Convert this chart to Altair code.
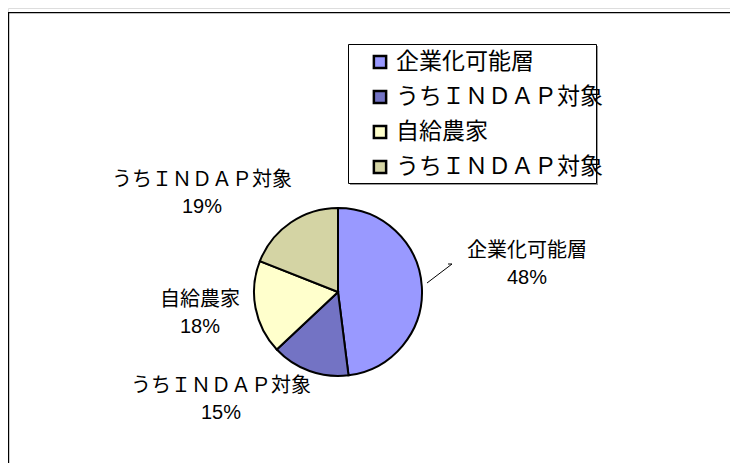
import altair as alt
import pandas as pd

# ---- data ----
slice_ids = ["s1", "s2", "s3", "s4"]
slice_labels = ["企業化可能層", "うちＩＮＤＡＰ対象", "自給農家", "うちＩＮＤＡＰ対象"]
slice_values = [48, 15, 18, 19]
slice_colors = ["#9999FF", "#7373C4", "#FFFFCC", "#D4D4A4"]

FONT = "Noto Sans CJK JP"
NUM_FONT = "Liberation Sans"

df = pd.DataFrame({
    "id": slice_ids,
    "label": slice_labels,
    "value": slice_values,
    "order": list(range(len(slice_ids))),
})

base = alt.Chart(df)

color_scale = alt.Scale(domain=slice_ids, range=slice_colors)

CX, CY, R = 330, 284, 84

# outer frame (decoration)
frame = base.mark_rect(fill="white", stroke="black", strokeWidth=1.2).encode(
    x=alt.value(0.6), y=alt.value(4.6), x2=alt.value(2000), y2=alt.value(2000)
).transform_filter("datum.order == 0")

pie = base.mark_arc(outerRadius=R, stroke="black", strokeWidth=2).encode(
    theta=alt.Theta("value:Q", stack=True),
    order=alt.Order("order:Q"),
    color=alt.Color("id:N", scale=color_scale, legend=None),
    x=alt.value(CX),
    y=alt.value(CY),
)

# data labels (Excel-style placement): (x, first line y, second line y)
label_pos = {"s1": (519, 243, 270), "s2": (213, 378, 405), "s3": (192, 292, 319), "s4": (194, 172, 199)}

def label_layers(sid):
    px, py1, py2 = label_pos[sid]
    src = base.transform_joinaggregate(total="sum(value)").transform_calculate(
        pct="format(datum.value / datum.total, '.0%')"
    ).transform_filter(f"datum.id == '{sid}'")
    t1 = src.mark_text(
        font=FONT, fontSize=20, color="black", align="center", baseline="middle"
    ).encode(text="label:N", x=alt.value(px), y=alt.value(py1))
    t2 = src.mark_text(
        font=NUM_FONT, fontSize=20, color="black", align="center", baseline="middle"
    ).encode(text="pct:N", x=alt.value(px), y=alt.value(py2))
    return [t1, t2]

labels = [l for s in slice_ids for l in label_layers(s)]

# leader line for the first slice
leader1 = base.transform_filter("datum.order == 0").mark_rule(color="black", strokeWidth=1).encode(
    x=alt.value(440), x2=alt.value(444), y=alt.value(256), y2=alt.value(256)
)
leader2 = base.transform_filter("datum.order == 0").mark_rule(color="black", strokeWidth=1).encode(
    x=alt.value(444), x2=alt.value(419), y=alt.value(256), y2=alt.value(275)
)

# legend box
lg_shadow = base.transform_filter("datum.order == 0").mark_rect(fill="#999999").encode(
    x=alt.value(342), y=alt.value(38), x2=alt.value(590), y2=alt.value(177)
)
lg_box = base.transform_filter("datum.order == 0").mark_rect(fill="white", stroke="black", strokeWidth=1).encode(
    x=alt.value(340.5), y=alt.value(36.5), x2=alt.value(588.5), y2=alt.value(175.5)
)
row_scale = alt.Scale(type="point", domain=slice_ids, range=[54, 159], padding=0)
lg_sw = base.mark_square(size=150, stroke="black", strokeWidth=2.5, opacity=1).encode(
    x=alt.value(372),
    y=alt.Y("id:N", scale=row_scale, axis=None),
    fill=alt.Color("id:N", scale=color_scale, legend=None),
)
lg_txt = base.mark_text(font=FONT, fontSize=23, align="left", baseline="middle", color="black").encode(
    x=alt.value(388),
    y=alt.Y("id:N", scale=row_scale, axis=None),
    text="label:N",
)

chart = alt.layer(
    frame, pie, *labels, leader1, leader2, lg_shadow, lg_box, lg_sw, lg_txt
).properties(
    width=722, height=455, autosize=alt.AutoSizeParams(type="none"), padding=0
).configure_view(stroke=None).configure(background="white")

chart.save("out.html", embed_options={"renderer": "svg", "actions": False})
